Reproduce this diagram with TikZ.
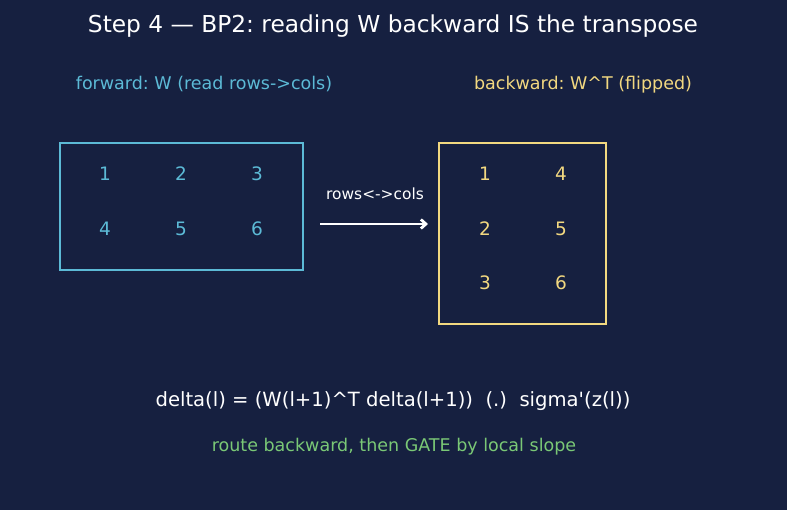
\documentclass[tikz,border=0pt]{standalone}
\usepackage{fontspec}
\setmainfont{DejaVu Sans}
\usetikzlibrary{arrows.meta,positioning}
\definecolor{bgnavy}{RGB}{22,32,64}
\definecolor{fwdcyan}{RGB}{92,186,214}
\definecolor{bwdgold}{RGB}{242,216,128}
\definecolor{gategreen}{RGB}{122,200,118}
\frenchspacing
\tikzset{
    >={Straight Barb[length=5pt,width=9pt]},
    matbox/.style={
        rectangle,
        draw, line width=1.6pt,
        inner sep=0pt
    },
    entry/.style={font=\fontsize{18.5}{22}\selectfont},
    caption/.style={font=\fontsize{17.5}{21}\selectfont},
    flip/.style={->, draw=white, line width=2.8pt}
}

\begin{document}
\begin{tikzpicture}[x=1pt,y=-1pt]
    \fill[bgnavy] (0,0) rectangle (787,510);
    \useasboundingbox (0,0) rectangle (787,510);

    \node[white,font=\fontsize{23.3}{27}\selectfont] (title) at (393,26.5) {Step 4 — BP2: reading W backward IS the transpose};
    \node[caption,fwdcyan] (fwdlbl) at (204,84.5) {forward: W (read rows->cols)};
    \node[caption,bwdgold] (bwdlbl) at (583,84.5) {backward: W\^{}T (flipped)};

    % forward matrix
    \node[matbox,draw=fwdcyan,minimum width=243pt,minimum height=127pt] (boxW) at (181.5,206.5) {};
    \foreach \r/\y in {0/174,1/229}
        \foreach \c/\x in {1/105,2/181,3/257} {
            \pgfmathtruncatemacro{\v}{3*\r+\c}
            \node[entry,fwdcyan] (w\v) at (\x,\y) {\v};
        }

    % backward matrix (transposed)
    \node[matbox,draw=bwdgold,minimum width=167pt,minimum height=181pt] (boxWT) at (522.5,233.5) {};
    \foreach \r/\y in {1/174,2/229,3/283}
        \foreach \c/\x in {0/485,1/561} {
            \pgfmathtruncatemacro{\v}{3*\c+\r}
            \node[entry,bwdgold] (t\v) at (\x,\y) {\v};
        }

    \coordinate (arrS) at (320,224);
    \coordinate (arrE) at (428,224);
    \draw[flip] (arrS) -- (arrE);
    \node[white,font=\fontsize{15.4}{18}\selectfont] (fliplbl) at (375,194) {rows<->cols};

    \node[white,font=\fontsize{19.6}{23}\selectfont] (rule) at (393,401.5) {delta(l) = (W(l+1)\^{}T delta(l+1))\ \ (.)\ \ sigma\textquotesingle(z(l))};
    \node[caption,gategreen] (gate) at (394,446.5) {route backward, then GATE by local slope};
\end{tikzpicture}
\end{document}
